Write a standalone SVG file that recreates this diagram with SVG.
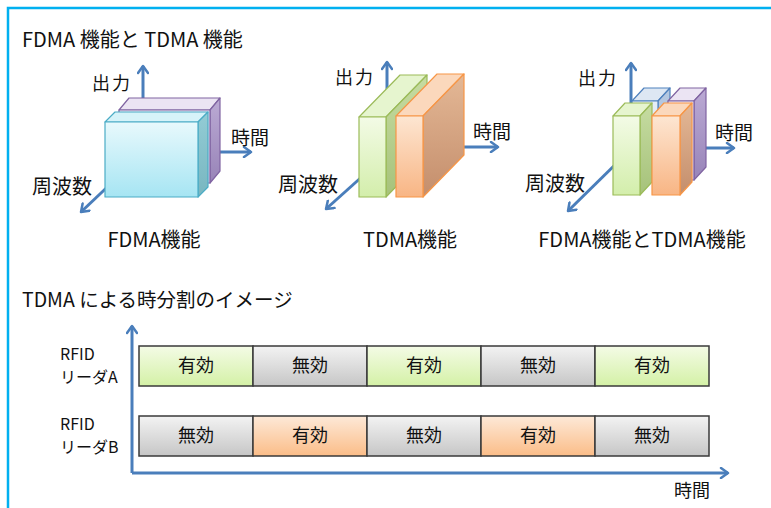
<svg xmlns="http://www.w3.org/2000/svg" width="771" height="508" viewBox="0 0 771 508">
<defs>
<linearGradient id="cyF" x1="0" y1="0" x2="0" y2="1"><stop offset="0" stop-color="#e8f9fc"/><stop offset="1" stop-color="#a6e5f3"/></linearGradient>
<linearGradient id="cyR" x1="0" y1="0" x2="0" y2="1"><stop offset="0" stop-color="#93ccd5"/><stop offset="1" stop-color="#78b6c0"/></linearGradient>
<linearGradient id="puF" x1="0" y1="0" x2="0" y2="1"><stop offset="0" stop-color="#eee8f5"/><stop offset="1" stop-color="#d8cde8"/></linearGradient>
<linearGradient id="puR" x1="0" y1="0" x2="0" y2="1"><stop offset="0" stop-color="#bbaad4"/><stop offset="1" stop-color="#9884b8"/></linearGradient>
<linearGradient id="grF" x1="0" y1="0" x2="0" y2="1"><stop offset="0" stop-color="#f3fbe6"/><stop offset="1" stop-color="#d3eeab"/></linearGradient>
<linearGradient id="grR" x1="0" y1="0" x2="0" y2="1"><stop offset="0" stop-color="#c6dca2"/><stop offset="1" stop-color="#a6c27a"/></linearGradient>
<linearGradient id="orF" x1="0" y1="0" x2="0" y2="1"><stop offset="0" stop-color="#fde6d2"/><stop offset="1" stop-color="#f8b584"/></linearGradient>
<linearGradient id="orR" x1="0" y1="0" x2="0" y2="1"><stop offset="0" stop-color="#e4b896"/><stop offset="1" stop-color="#c48e6c"/></linearGradient>
<linearGradient id="blF" x1="0" y1="0" x2="0" y2="1"><stop offset="0" stop-color="#e6eef8"/><stop offset="1" stop-color="#c8d8ee"/></linearGradient>
<linearGradient id="cG" x1="0" y1="0" x2="0" y2="1"><stop offset="0" stop-color="#f4fbe6"/><stop offset="1" stop-color="#d4f1a6"/></linearGradient>
<linearGradient id="cY" x1="0" y1="0" x2="0" y2="1"><stop offset="0" stop-color="#f3f3f3"/><stop offset="1" stop-color="#c6c6c6"/></linearGradient>
<linearGradient id="cO" x1="0" y1="0" x2="0" y2="1"><stop offset="0" stop-color="#fde9d8"/><stop offset="1" stop-color="#fbbd88"/></linearGradient>
<marker id="ah" viewBox="0 0 12 12" markerUnits="userSpaceOnUse" markerWidth="12" markerHeight="12" refX="9" refY="6" orient="auto">
<path d="M2,1 L9,6 L2,11" fill="none" stroke="#4a7ebb" stroke-width="2.5" stroke-linecap="round" stroke-linejoin="round"/>
</marker>
<style>
text{font-family:"Noto Sans CJK JP","Noto Sans",sans-serif;fill:#111}
.t{font-size:20px}
.s{font-size:19.5px}
.l{font-size:20px}
.m{font-size:18px}
.h{font-size:19px}
.r{font-size:16px}
.c{font-size:18px;text-anchor:middle}
.ax{stroke:#4a7ebb;stroke-width:3;fill:none;marker-end:url(#ah)}
.cy{stroke:#4bacc6;stroke-width:1.2;stroke-linejoin:round}
.pu{stroke:#8064a2;stroke-width:1.2;stroke-linejoin:round}
.gr{stroke:#9bbb59;stroke-width:1.2;stroke-linejoin:round}
.or{stroke:#f79646;stroke-width:1.2;stroke-linejoin:round}
.bl{stroke:#4f81bd;stroke-width:1.2;stroke-linejoin:round}
.cell{stroke:#3a3a3a;stroke-width:1.5}
</style>
</defs>
<rect x="0" y="0" width="771" height="508" fill="#ffffff"/>
<path d="M8,508 L8,8 L771,8" fill="none" stroke="#00b0f0" stroke-width="2.5"/>

<text class="t" x="22" y="47">FDMA 機能と TDMA 機能</text>
<text class="s" x="22" y="307">TDMA による時分割のイメージ</text>

<g id="connectors">
<line class="ax" x1="143" y1="150" x2="143" y2="66"/>
<line class="ax" x1="150" y1="152" x2="251" y2="152"/>
<line class="ax" x1="120" y1="175" x2="81" y2="212"/>
<line class="ax" x1="387" y1="130" x2="387" y2="62"/>
<line class="ax" x1="420" y1="147" x2="498" y2="147"/>
<line class="ax" x1="375" y1="165" x2="326" y2="209"/>
<line class="ax" x1="631" y1="140" x2="631" y2="63"/>
<line class="ax" x1="690" y1="148" x2="734" y2="148"/>
<line class="ax" x1="625" y1="155" x2="568" y2="211"/>
<path class="ax" d="M132,473 L132,326"/>
<path class="ax" d="M132,473 L728,473"/>
</g>

<g id="fdma">
<g id="fdma-purple">
<polygon class="pu" points="119,110 129,98 220,98 210,110" fill="#ebe4f3"/>
<polygon class="pu" points="210,110 220,98 220,171 210,183" fill="url(#puR)"/>
<rect class="pu" x="119" y="110" width="91" height="73" fill="url(#puF)"/>
</g>
<g id="fdma-cyan">
<polygon class="cy" points="105,122 115,112 208,112 198,122" fill="#d6f3f9"/>
<polygon class="cy" points="198,122 208,112 208,187 198,197" fill="url(#cyR)"/>
<rect class="cy" x="105" y="122" width="93" height="75" fill="url(#cyF)"/>
</g>
<text class="m" x="92" y="90" letter-spacing="2">出力</text>
<text class="h" x="231" y="145">時間</text>
<text class="l" x="32" y="194">周波数</text>
<text class="l" x="154" y="247" text-anchor="middle">FDMA機能</text>
</g>

<g id="tdma">
<g id="tdma-green">
<polygon class="gr" points="359,117 400,75 427,75 386,117" fill="#e6f5cf"/>
<polygon class="gr" points="386,117 427,75 427,155 386,197" fill="url(#grR)"/>
<rect class="gr" x="359" y="117" width="27" height="80" fill="url(#grF)"/>
</g>
<g id="tdma-orange">
<polygon class="or" points="396,116 437,74 464,74 423,116" fill="#fbd8bc"/>
<polygon class="or" points="423,116 464,74 464,155 423,197" fill="url(#orR)"/>
<rect class="or" x="396" y="116" width="27" height="81" fill="url(#orF)"/>
</g>
<text class="m" x="335" y="84" letter-spacing="2">出力</text>
<text class="h" x="473" y="139">時間</text>
<text class="l" x="278" y="192">周波数</text>
<text class="l" x="410" y="247" text-anchor="middle">TDMA機能</text>
</g>

<g id="both">
<g id="both-blue">
<polygon class="bl" points="632,101 644,88 670,88 658,101" fill="#dde7f3"/>
<polygon class="bl" points="658,101 670,88 670,167 658,180" fill="#b4c7e0"/>
<rect class="bl" x="632" y="101" width="26" height="79" fill="url(#blF)"/>
</g>
<g id="both-purple">
<polygon class="pu" points="668,101 680,88 706,88 694,101" fill="#ebe4f3"/>
<polygon class="pu" points="694,101 706,88 706,167 694,180" fill="url(#puR)"/>
<rect class="pu" x="668" y="101" width="26" height="79" fill="url(#puF)"/>
</g>
<g id="both-green">
<polygon class="gr" points="613,116 625,103 652,103 640,116" fill="#e6f5cf"/>
<polygon class="gr" points="640,116 652,103 652,182 640,195" fill="url(#grR)"/>
<rect class="gr" x="613" y="116" width="27" height="79" fill="url(#grF)"/>
</g>
<g id="both-orange">
<polygon class="or" points="652,116 664,103 692,103 680,116" fill="#fbd8bc"/>
<polygon class="or" points="680,116 692,103 692,182 680,195" fill="url(#orR)"/>
<rect class="or" x="652" y="116" width="28" height="79" fill="url(#orF)"/>
</g>
<text class="m" x="578" y="85" letter-spacing="2">出力</text>
<text class="h" x="715" y="140">時間</text>
<text class="l" x="525" y="191">周波数</text>
<text class="l" x="642" y="247" text-anchor="middle">FDMA機能とTDMA機能</text>
</g>

<g id="labels">
<text class="r" x="60" y="360">RFID</text>
<text class="r" x="60" y="383">リーダA</text>
<text class="r" x="60" y="430">RFID</text>
<text class="r" x="60" y="453">リーダB</text>
<text class="c" x="692" y="497">時間</text>
</g>

<g id="rowA">
<g id="a1"><rect class="cell" x="139" y="346" width="114" height="40" fill="url(#cG)"/><text class="c" x="196" y="372">有効</text></g>
<g id="a2"><rect class="cell" x="253" y="346" width="114" height="40" fill="url(#cY)"/><text class="c" x="310" y="372">無効</text></g>
<g id="a3"><rect class="cell" x="367" y="346" width="114" height="40" fill="url(#cG)"/><text class="c" x="424" y="372">有効</text></g>
<g id="a4"><rect class="cell" x="481" y="346" width="114" height="40" fill="url(#cY)"/><text class="c" x="538" y="372">無効</text></g>
<g id="a5"><rect class="cell" x="595" y="346" width="114" height="40" fill="url(#cG)"/><text class="c" x="652" y="372">有効</text></g>
</g>
<g id="rowB">
<g id="b1"><rect class="cell" x="139" y="416" width="114" height="40" fill="url(#cY)"/><text class="c" x="196" y="442">無効</text></g>
<g id="b2"><rect class="cell" x="253" y="416" width="114" height="40" fill="url(#cO)"/><text class="c" x="310" y="442">有効</text></g>
<g id="b3"><rect class="cell" x="367" y="416" width="114" height="40" fill="url(#cY)"/><text class="c" x="424" y="442">無効</text></g>
<g id="b4"><rect class="cell" x="481" y="416" width="114" height="40" fill="url(#cO)"/><text class="c" x="538" y="442">有効</text></g>
<g id="b5"><rect class="cell" x="595" y="416" width="114" height="40" fill="url(#cY)"/><text class="c" x="652" y="442">無効</text></g>
</g>
</svg>
